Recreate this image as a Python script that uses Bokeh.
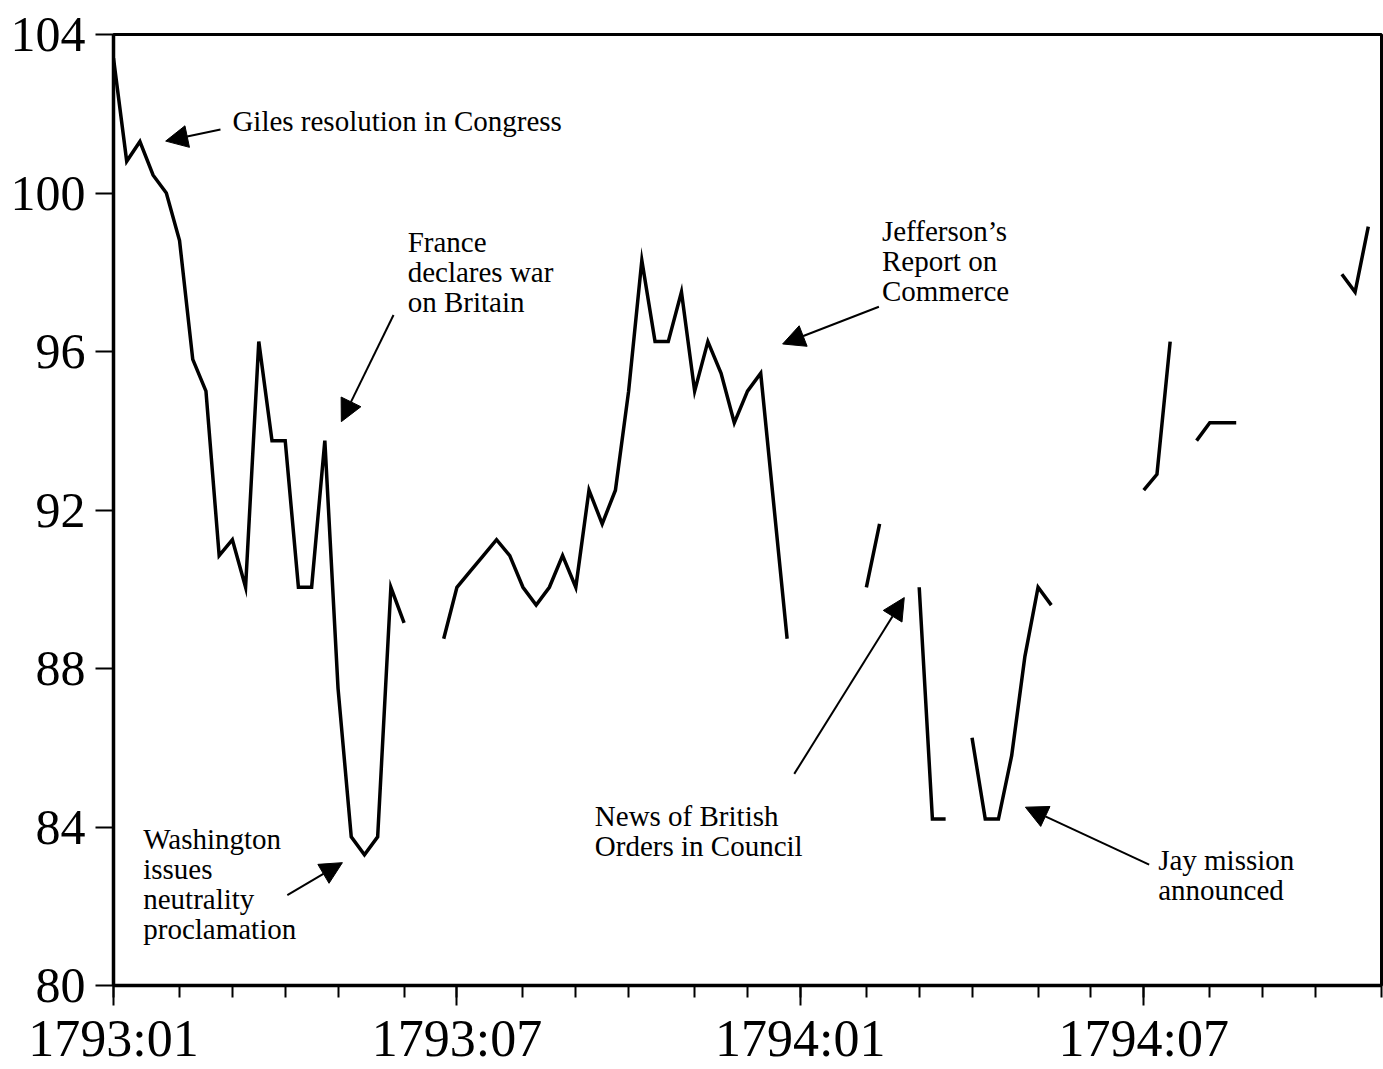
import numpy as np
from bokeh.plotting import figure
from bokeh.models import Range1d, FixedTicker, Arrow, NormalHead, Label
from bokeh.embed import file_html
from bokeh.resources import INLINE

nan = float("nan")

# weekly observations, week 0 = first week of 1793:01
week_values = [
    103.4, 100.8, 101.3, 100.45, 100.0, 98.8, 95.8, 95.0, 90.85, 91.25,
    90.05, 96.25, 93.75, 93.75, 90.05, 90.05, 93.75, 87.5, 83.75, 83.3,
    83.75, 90.05, 89.15, nan, nan, 88.75, 90.05, 90.45, 90.85, 91.25,
    90.85, 90.05, 89.6, 90.05, 90.85, 90.05, 92.5, 91.65, 92.5, 95.0,
    98.3, 96.25, 96.25, 97.5, 95.0, 96.25, 95.45, 94.2, 95.0, 95.45,
    92.1, 88.75, nan, nan, nan, nan, nan, 90.05, 91.65, nan,
    nan, 90.05, 84.2, 84.2, nan, 86.25, 84.2, 84.2, 85.8, 88.3,
    90.05, 89.6, nan, nan, nan, nan, nan, nan, 92.5, 92.9,
    96.25, nan, 93.75, 94.2, 94.2, 94.2, nan, nan, nan, nan,
    nan, nan, nan, 97.95, 97.5, 99.15,
]
weeks = list(range(len(week_values)))

# week index at which each month starts
month_starts = [0, 5, 9, 13, 17, 22, 26, 31, 35, 39, 44, 48, 52, 57, 61, 65,
                70, 74, 78, 83, 87, 91, 96]
label_weeks = [0, 26, 52, 78]
label_texts = ["1793:01", "1793:07", "1794:01", "1794:07"]
y_ticks = [80, 84, 88, 92, 96, 100, 104]

annotations = [
    (["Giles resolution in Congress"], 9.0, 101.81, (8.1, 101.6, 3.95, 101.31)),
    (["France", "declares war", "on Britain"], 22.27, 98.76, (21.2, 96.92, 17.25, 94.23)),
    (["Washington", "issues", "neutrality", "proclamation"], 2.25, 83.70, (13.16, 82.28, 17.33, 83.1)),
    (["Jefferson\u2019s", "Report on", "Commerce"], 58.18, 99.04, (57.95, 97.13, 50.66, 96.19)),
    (["News of British", "Orders in Council"], 36.44, 84.28, (51.54, 85.34, 59.87, 89.79)),
    (["Jay mission", "announced"], 79.09, 83.17, (78.41, 83.05, 69.04, 84.5)),
]

FONT = "Liberation Serif"

p = figure(width=1383, height=1069, output_backend="svg", toolbar_location=None,
           x_range=Range1d(0, 96), y_range=Range1d(80, 104),
           min_border_left=113, min_border_right=2, min_border_top=34,
           min_border_bottom=82)
p.xgrid.visible = False
p.ygrid.visible = False
p.outline_line_color = "black"
p.outline_line_width = 3
p.outline_line_alpha = 1.0
p.background_fill_color = "white"
p.border_fill_color = "white"

p.line(x=weeks, y=np.array(week_values, dtype=float), line_color="black",
       line_width=3.5, line_join="miter")

xa = p.xaxis[0]
xa.ticker = FixedTicker(ticks=label_weeks, minor_ticks=month_starts)
xa.major_label_overrides = {w: t for w, t in zip(label_weeks, label_texts)}
xa.axis_line_width = 3.5
xa.major_tick_out = 20
xa.major_tick_in = 0
xa.minor_tick_out = 12
xa.minor_tick_in = 0
xa.major_tick_line_width = 2
xa.minor_tick_line_width = 2
xa.major_tick_line_color = "black"
xa.minor_tick_line_color = "black"
xa.axis_line_color = "black"
xa.major_label_standoff = 4
xa.major_label_text_font = FONT
xa.major_label_text_font_size = "52px"
xa.major_label_text_color = "black"

ya = p.yaxis[0]
ya.ticker = FixedTicker(ticks=y_ticks, minor_ticks=[])
ya.axis_line_width = 3.5
ya.axis_line_color = "black"
ya.major_tick_out = 18
ya.major_tick_in = 0
ya.major_tick_line_width = 2
ya.major_tick_line_color = "black"
ya.major_label_standoff = 10
ya.major_label_text_font = FONT
ya.major_label_text_font_size = "50px"
ya.major_label_text_color = "black"

line_step = 0.755
for lines, tx, ty, (xs, ys, xe, ye) in annotations:
    for k, txt in enumerate(lines):
        p.add_layout(Label(x=tx, y=ty - k * line_step, text=txt, text_font=FONT,
                           text_font_size="29px", text_color="black",
                           text_baseline="middle", text_align="left"))
    p.add_layout(Arrow(x_start=xs, y_start=ys, x_end=xe, y_end=ye,
                       line_color="black", line_width=2,
                       end=NormalHead(size=22, fill_color="black", fill_alpha=1.0,
                                      line_color="black", line_width=1)))

open("out.html", "w").write(file_html(p, INLINE))
